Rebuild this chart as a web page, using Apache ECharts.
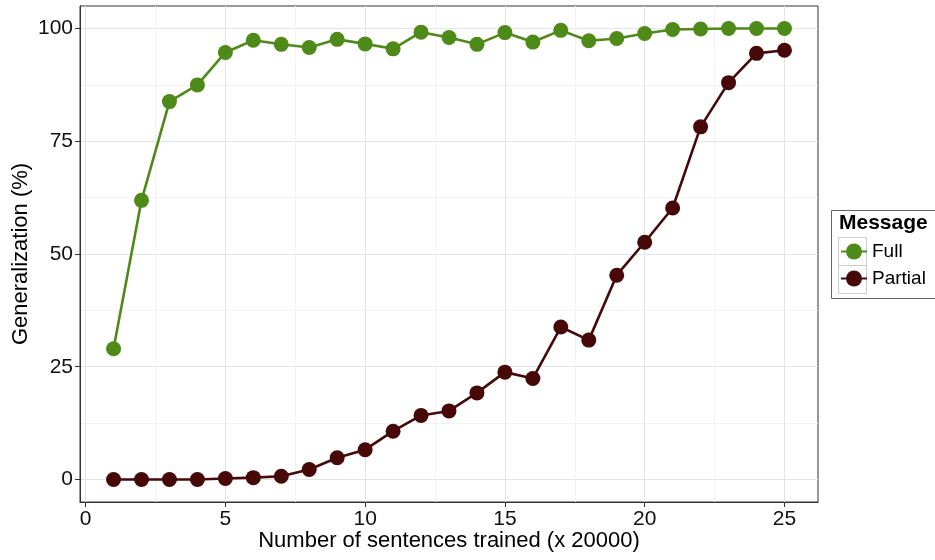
<!DOCTYPE html>
<html>
<head>
<meta charset="utf-8">
<script src="https://cdn.jsdelivr.net/npm/echarts@6/dist/echarts.min.js"></script>
<style>html,body{margin:0;padding:0;background:#fff}#c{width:935px;height:560px}</style>
</head>
<body>
<div id="c"></div>
<script>
const steps = [1,2,3,4,5,6,7,8,9,10,11,12,13,14,15,16,17,18,19,20,21,22,23,24,25];
const fullValues = [29.0,61.9,83.8,87.5,94.7,97.4,96.5,95.8,97.6,96.6,95.5,99.2,98.0,96.5,99.1,97.0,99.6,97.3,97.8,98.9,99.8,99.9,100,100,100];
const partialValues = [0,0,0,0,0.2,0.4,0.7,2.2,4.8,6.6,10.7,14.2,15.2,19.2,23.8,22.4,33.8,30.9,45.3,52.6,60.2,78.2,88.0,94.5,95.2];
const xTicks = [0,5,10,15,20,25];
const xMinorTicks = [2.5,7.5,12.5,17.5,22.5];
const yTicks = [0,25,50,75,100];
const yMinorTicks = [12.5,37.5,62.5,87.5];
const seriesNames = ['Full','Partial'];
const colors = ['#4e8a18','#470808'];

const chart = echarts.init(document.getElementById('c'));
const FONT = 'Liberation Sans, Arial, sans-serif';
const labelStyle = {color:'#111', fontSize:21, fontFamily:FONT};
const gridCol = '#e4e4e4';
const minorCol = '#f3f3f3';

function pairs(vals){ return steps.map((s,i)=>[s, vals[i]]); }

chart.setOption({
  animation:false,
  title:{text:'Message', left:839, top:213, padding:0, textStyle:{fontSize:21, fontWeight:'bold', color:'#000', fontFamily:FONT}},
  grid:{left:80, right:117, top:6, bottom:58, containLabel:false, outerBoundsMode:'none',
        show:true, borderColor:'#333', borderWidth:1, backgroundColor:'#fff'},
  legend:{
    orient:'vertical', left:840, top:242, itemWidth:26, itemHeight:20, itemGap:8, padding:0,
    data:seriesNames,
    textStyle:{fontSize:19, color:'#000', fontFamily:FONT}
  },
  graphic:[
    {type:'rect', shape:{x:831.5, y:210.5, width:110, height:88}, style:{fill:'none', stroke:'#666', lineWidth:1}, z:-1},
    {type:'rect', shape:{x:838.5, y:237.5, width:28, height:28}, style:{fill:'none', stroke:'#ccc', lineWidth:1}, z:-1},
    {type:'rect', shape:{x:838.5, y:265.5, width:28, height:28}, style:{fill:'none', stroke:'#ccc', lineWidth:1}, z:-1}
  ],
  xAxis:[
    {type:'value', min:-0.2, max:26.2,
     name:'Number of sentences trained (x 20000)', nameLocation:'middle', nameGap:28, nameMoveOverlap:false,
     nameTextStyle:{fontSize:22, color:'#000', fontFamily:FONT},
     axisLine:{show:true, onZero:false, lineStyle:{color:'#333'}},
     axisTick:{show:true, length:5, customValues:xTicks, lineStyle:{color:'#333'}},
     axisLabel:{customValues:xTicks, margin:7, ...labelStyle},
     splitLine:{show:true, lineStyle:{color:gridCol, width:1}}},
    {type:'value', min:-0.2, max:26.2, position:'bottom',
     axisLine:{show:false, onZero:false}, axisTick:{show:false, customValues:xMinorTicks},
     axisLabel:{show:false, customValues:xMinorTicks},
     splitLine:{show:true, lineStyle:{color:minorCol, width:1}}}
  ],
  yAxis:[
    {type:'value', min:-5, max:105,
     name:'Generalization (%)', nameLocation:'middle', nameGap:48, nameMoveOverlap:false,
     nameTextStyle:{fontSize:22, color:'#000', fontFamily:FONT},
     axisLine:{show:true, onZero:false, lineStyle:{color:'#333'}},
     axisTick:{show:true, length:5, customValues:yTicks, lineStyle:{color:'#333'}},
     axisLabel:{customValues:yTicks, margin:7, ...labelStyle},
     splitLine:{show:true, lineStyle:{color:gridCol, width:1}}},
    {type:'value', min:-5, max:105, position:'left',
     axisLine:{show:false, onZero:false}, axisTick:{show:false, customValues:yMinorTicks},
     axisLabel:{show:false, customValues:yMinorTicks},
     splitLine:{show:true, lineStyle:{color:minorCol, width:1}}}
  ],
  series: seriesNames.map((n,k)=>({
    name:n, type:'line', xAxisIndex:0, yAxisIndex:0,
    data: pairs(k===0 ? fullValues : partialValues),
    symbol:'circle', symbolSize:15, showSymbol:true,
    lineStyle:{color:colors[k], width:2.6},
    itemStyle:{color:colors[k]},
    z: 3
  }))
});
</script>
</body>
</html>
